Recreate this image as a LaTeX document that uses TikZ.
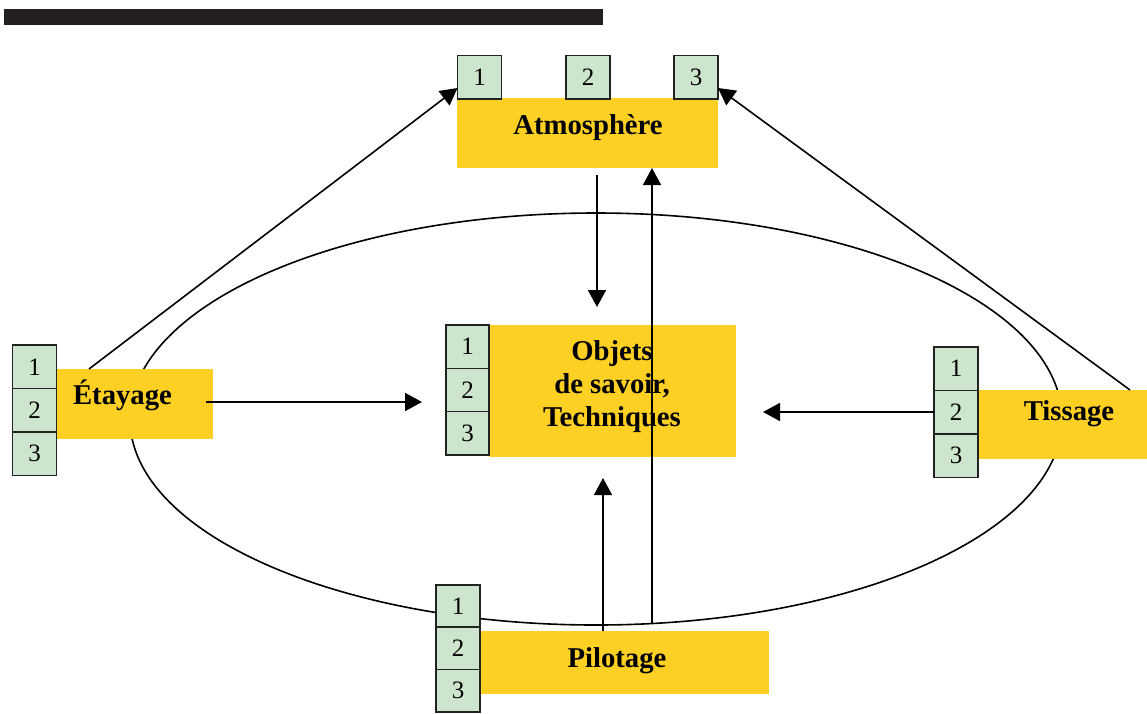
\documentclass[tikz,border=0pt]{standalone}
\usepackage{fontspec}
\setmainfont{Liberation Serif}
\usetikzlibrary{arrows.meta,calc,shapes.geometric}
\definecolor{yfill}{HTML}{FDD023}
\definecolor{gfill}{HTML}{CCE5CC}
\definecolor{barcol}{HTML}{231F20}
\definecolor{edge}{HTML}{222222}
\begin{document}
\begin{tikzpicture}[x=1pt,y=-1pt,
  ybox/.style={fill=yfill,draw=none,inner sep=0,outer sep=0},
  gbox/.style={fill=gfill,draw=edge,line width=1.5pt,inner sep=0,outer sep=0,
    minimum width=44pt,minimum height=43.5pt,font=\fontsize{25}{25}\selectfont},
  lab/.style={font=\bfseries\fontsize{28.7}{33}\selectfont,inner sep=0,anchor=base},
  arr/.style={-{Triangle[length=17pt,width=18pt]},line width=1.6pt},
  ln/.style={line width=1.6pt}]
\useasboundingbox (0,0) rectangle (1147,713);
% top bar
\node[fill=barcol,inner sep=0,minimum width=599pt,minimum height=16pt] (bar) at (303.5,17) {};
% ellipse
\node[draw,ellipse,line width=1.6pt,minimum width=932pt,minimum height=412pt,inner sep=0] (cyc) at (596,419) {};
% Atmosphere
\node[ybox,minimum width=261pt,minimum height=70pt] (atm) at (587.5,133) {};
\node[lab] (atmL) at (588,134) {Atmosphère};
\node[gbox] (a1) at (479.5,77) {1};
\node[gbox] (a2) at (588,77) {2};
\node[gbox] (a3) at (696,77) {3};
% Etayage
\node[ybox,minimum width=156pt,minimum height=70pt] (eta) at (135,404) {};
\node[lab] (etaL) at (122.5,404) {Étayage};
\node[gbox] (e1) at (34.5,366.75) {1};
\node[gbox] (e2) at (34.5,410.25) {2};
\node[gbox] (e3) at (34.5,453.75) {3};
% Objets
\node[ybox,minimum width=247pt,minimum height=132pt] (obj) at (612.5,391) {};
\node[font=\bfseries\fontsize{28.7}{33}\selectfont,align=center,inner sep=0] (objL) at (612,387) {Objets\\de savoir,\\Techniques};
\node[gbox,minimum width=43pt,minimum height=43.3pt] (o1) at (467.5,346.7) {1};
\node[gbox,minimum width=43pt,minimum height=43.3pt] (o2) at (467.5,390) {2};
\node[gbox,minimum width=43pt,minimum height=43.3pt] (o3) at (467.5,433.3) {3};
% Tissage
\node[ybox,minimum width=169pt,minimum height=69pt] (tis) at (1062.5,424.5) {};
\node[lab] (tisL) at (1069,420) {Tissage};
\node[gbox] (t1) at (956,368.5) {1};
\node[gbox] (t2) at (956,412) {2};
\node[gbox] (t3) at (956,455.5) {3};
% Pilotage
\node[ybox,minimum width=289pt,minimum height=63pt] (pil) at (624.5,662.5) {};
\node[lab] (pilL) at (617,667) {Pilotage};
\node[gbox,minimum height=42.3pt] (p1) at (458,606) {1};
\node[gbox,minimum height=42.3pt] (p2) at (458,648.3) {2};
\node[gbox,minimum height=42.3pt] (p3) at (458,690.6) {3};
% connectors
\coordinate (etaTop) at ([xshift=32pt]eta.north west);
\coordinate (tisTop) at ([xshift=152pt]tis.north west);
\coordinate (atmBot) at ([yshift=-7pt]atm.south -| 597,0);
\coordinate (pilUp) at ([yshift=8pt]pil.north -| 652,0);
\coordinate (etaR) at ([xshift=-7pt,yshift=2pt]eta.east);
\draw[arr] (etaTop) -- ([yshift=-11pt]a1.west);
\draw[arr] (tisTop) -- ([yshift=-11pt]a3.east);
\draw[arr] (atmBot) -- (597,307);
\draw[arr] (pilUp) -- (atm.south -| pilUp);
\draw[arr] (pil.north -| 603,0) -- (603,478);
\draw[arr] (etaR) -- (422,0 |- etaR);
\draw[arr] (t2.west) -- (763,412);
\end{tikzpicture}
\end{document}
